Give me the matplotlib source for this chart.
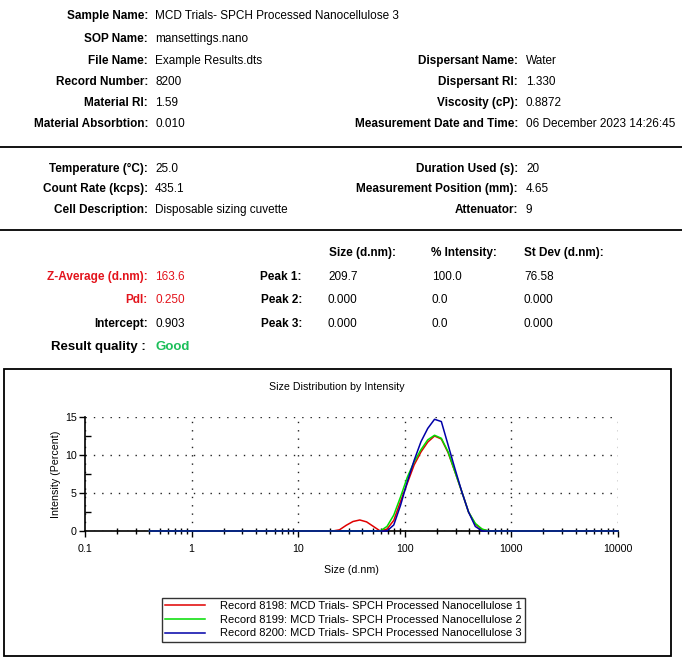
import matplotlib
matplotlib.use("Agg")
import matplotlib.pyplot as plt
from matplotlib.lines import Line2D
from matplotlib.patches import Rectangle
from matplotlib.ticker import FixedLocator, NullFormatter

plt.rcParams['font.family'] = ['Liberation Sans', 'DejaVu Sans']

W, H = 682, 664

# ---------------- data ----------------
sizes = [0.4, 0.4632, 0.5365, 0.6213, 0.7195, 0.8332, 0.9649, 1.117, 1.294, 1.499,
         1.736, 2.010, 2.328, 2.696, 3.122, 3.615, 4.187, 4.849, 5.615, 6.503,
         7.531, 8.721, 10.10, 11.70, 13.54, 15.69, 18.17, 21.04, 24.36, 28.21,
         32.67, 37.84, 43.82, 50.75, 58.77, 68.06, 78.82, 91.28, 105.7, 122.4,
         141.8, 164.2, 190.1, 220.2, 255.0, 295.3, 342.0, 396.1, 458.7, 531.2,
         615.1, 712.4, 825.0, 955.4, 1106, 1281, 1484, 1718, 1990, 2305,
         2669, 3091, 3580, 4145, 4801, 5560, 6439, 7456, 8635, 10000]

intensity_8198 = [0]*28 + [0.15, 0.75, 1.25, 1.45, 1.2, 0.6, 0.0, 0.25, 1.4, 3.9, 6.3, 8.7,
                  10.4, 11.7, 12.5, 12.1, 10.3, 7.8, 5.2, 2.5, 0.9, 0.2] + [0]*20
intensity_8199 = [0]*34 + [0.0, 0.6, 2.1, 4.5, 7.1, 9.1, 10.7, 12.0, 12.6, 12.2,
                  10.4, 7.8, 5.2, 2.5, 1.0, 0.25] + [0]*20
intensity_8200 = [0]*34 + [0.0, 0.0, 0.8, 3.4, 6.5, 9.3, 11.75, 13.5, 14.7, 14.4,
                  11.3, 8.2, 5.2, 2.5, 0.6, 0.0] + [0]*20

series_labels = ["Record 8198: MCD Trials- SPCH Processed Nanocellulose 1",
                 "Record 8199: MCD Trials- SPCH Processed Nanocellulose 2",
                 "Record 8200: MCD Trials- SPCH Processed Nanocellulose 3"]
series_colors = ["#e00000", "#00dd00", "#0000a8"]

x_major = [0.1, 1, 10, 100, 1000, 10000]
x_major_labels = ["0.1", "1", "10", "100", "1000", "10000"]
y_major = [0, 5, 10, 15]

header_left = [("Sample Name:", "MCD Trials- SPCH Processed Nanocellulose 3"),
               ("SOP Name:", "mansettings.nano"),
               ("File Name:", "Example Results.dts"),
               ("Record Number:", "8200"),
               ("Material RI:", "1.59"),
               ("Material Absorbtion:", "0.010")]
header_right = [("Dispersant Name:", "Water"),
                ("Dispersant RI:", "1.330"),
                ("Viscosity (cP):", "0.8872"),
                ("Measurement Date and Time:", "06 December 2023 14:26:45")]
cond_left = [("Temperature (°C):", "25.0"),
             ("Count Rate (kcps):", "435.1"),
             ("Cell Description:", "Disposable sizing cuvette")]
cond_right = [("Duration Used (s):", "20"),
              ("Measurement Position (mm):", "4.65"),
              ("Attenuator:", "9")]
result_left = [("Z-Average (d.nm):", "163.6"), ("PdI:", "0.250"), ("Intercept:", "0.903")]
peak_names = ["Peak 1:", "Peak 2:", "Peak 3:"]
peak_headers = ["Size (d.nm):", "% Intensity:", "St Dev (d.nm):"]
peak_size = ["209.7", "0.000", "0.000"]
peak_int = ["100.0", "0.0", "0.0"]
peak_sd = ["76.58", "0.000", "0.000"]

RED_TXT = "#e3141c"
GREEN_TXT = "#1cbf5a"
FS = 8.5

fig = plt.figure(figsize=(W/100, H/100), dpi=100)


def px(x, y):
    return x / W, 1 - y / H


def label(x, y, s, color="black", size=FS, bold=True, ha="right"):
    fig.text(*px(x, y), s, ha=ha, va="center", fontsize=size,
             fontweight="bold" if bold else "normal", color=color)


def value(x, y, s, color="black", size=FS, bold=False):
    fig.text(*px(x, y), s, ha="left", va="center", fontsize=size,
             fontweight="bold" if bold else "normal", color=color)


# header block
for i, (k, v) in enumerate(header_left):
    y = [16, 39, 61, 82, 103, 124][i]
    label(148, y, k)
    value(155, y, v)
for i, (k, v) in enumerate(header_right):
    y = [61, 82, 103, 124][i]
    label(518, y, k)
    value(526, y, v)

for yl in (147, 230):
    fig.add_artist(Line2D([0, 1], [1 - yl / H] * 2, color="black", lw=1.3,
                          transform=fig.transFigure))

for i, (k, v) in enumerate(cond_left):
    y = [169, 189, 210][i]
    label(148, y, k)
    value(155, y, v)
for i, (k, v) in enumerate(cond_right):
    y = [169, 189, 210][i]
    label(518, y, k)
    value(526, y, v)

# results
for hx, h in zip([329, 431, 524], peak_headers):
    label(hx, 253, h, ha="left")
rows_y = [277, 300, 324]
for i, (k, v) in enumerate(result_left):
    c = RED_TXT if i < 2 else "black"
    label(148, rows_y[i], k, color=c)
    value(155, rows_y[i], v, color=c)
    label(302, rows_y[i], peak_names[i])
    value(328, rows_y[i], peak_size[i])
    value(432, rows_y[i], peak_int[i])
    value(524, rows_y[i], peak_sd[i])
label(146, 347, "Result quality :", size=9.5)
value(155, 347, "Good", color=GREEN_TXT, size=9.5, bold=True)

# chart frame
fig.add_artist(Rectangle(px(4, 656), 667 / W, 287 / H, fill=False, edgecolor="black",
                         lw=1.3, transform=fig.transFigure))
fig.text(*px(337, 387), "Size Distribution by Intensity", ha="center", va="center",
         fontsize=7.7)

# axes
l, r, t, b = 85, 618, 417, 531
ax = fig.add_axes([l / W, 1 - b / H, (r - l) / W, (b - t) / H])
for s in ("top", "right"):
    ax.spines[s].set_visible(False)
for s in ("left", "bottom"):
    ax.spines[s].set_linewidth(1.2)
ax.set_xscale("log")
ax.set_xlim(0.1, 10000)
ax.set_ylim(0, 15)
ax.set_xticks(x_major, labels=x_major_labels)
ax.xaxis.set_minor_locator(FixedLocator([m * 10.0**e for e in range(-1, 4) for m in range(2, 10)]))
ax.xaxis.set_minor_formatter(NullFormatter())
ax.set_yticks(y_major)
ax.yaxis.set_minor_locator(FixedLocator([2.5, 7.5, 12.5]))
ax.tick_params(axis="x", which="major", direction="out", length=4, width=1,
               labelsize=7.7, pad=5)
ax.tick_params(axis="y", which="major", direction="out", length=4, width=1,
               labelsize=7.7, pad=2)
ax.tick_params(axis="x", which="minor", direction="inout", length=4, width=1)
ax.tick_params(axis="y", which="minor", direction="in", length=4, width=1)
ax.grid(True, which="major", color="#222222", linestyle=(0, (1, 5)), lw=1)
ax.set_xlabel("Size (d.nm)", fontsize=7.7, labelpad=8)
ax.set_ylabel("Intensity (Percent)", fontsize=7.7, labelpad=3)

lines = []
for data, lab, col in zip([intensity_8198, intensity_8199, intensity_8200],
                          series_labels, series_colors):
    ln, = ax.plot(sizes, data, color=col, lw=1.1, label=lab, clip_on=False, zorder=5)
    lines.append(ln)

leg = fig.legend(handles=lines, loc="upper left", bbox_to_anchor=px(162, 598),
                 bbox_transform=fig.transFigure, fontsize=8.0, frameon=True,
                 fancybox=False, handlelength=3.6, handletextpad=1.3,
                 labelspacing=0.32, borderpad=0.3, borderaxespad=0)
leg.get_frame().set_edgecolor("black")
leg.get_frame().set_linewidth(1.0)

fig.savefig("out.png", dpi=100)
